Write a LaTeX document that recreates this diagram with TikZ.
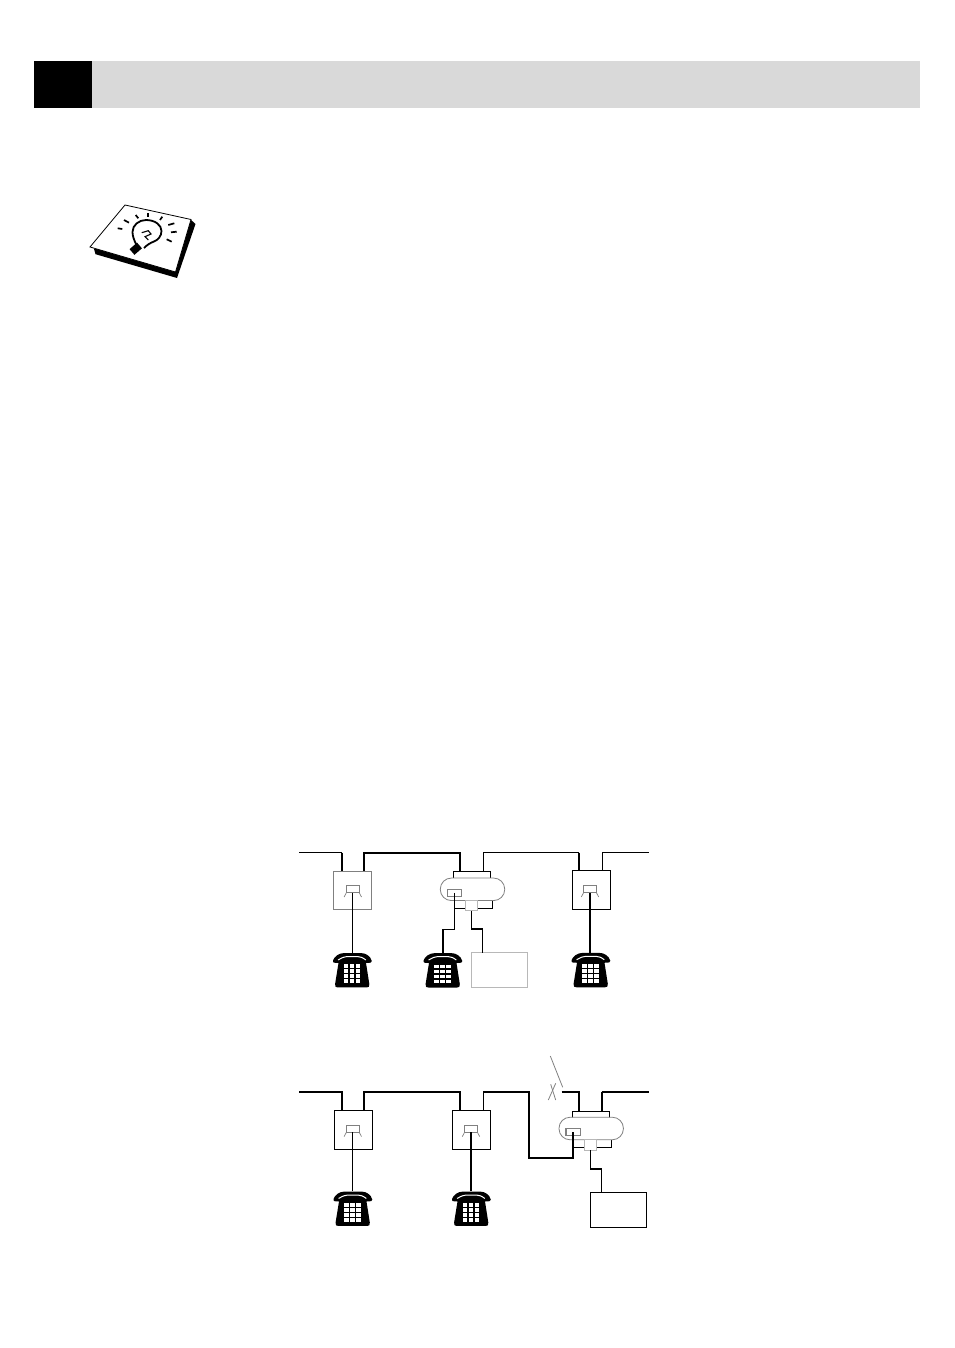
\documentclass[tikz,border=0pt]{standalone}
\usepackage{xcolor}
\usetikzlibrary{positioning}
\definecolor{bargray}{HTML}{D9D9D9}
\definecolor{edgegray}{HTML}{808080}
\definecolor{paleedge}{HTML}{B8B8B8}

\begin{document}
\begin{tikzpicture}[
  x=1pt,y=-1pt,
  every node/.style={inner sep=0pt,outer sep=0pt},
  wallbox/.style={draw,fill=white,line width=0.9pt,minimum width=38pt,minimum height=38.5pt},
  jack/.style={draw=edgegray,fill=white,line width=1.1pt,minimum width=13pt,minimum height=7pt},
  jackleg/.style={edgegray,line width=0.7pt},
  faxbody/.style={draw=edgegray,fill=white,line width=0.8pt,rounded corners=11pt,minimum width=64.4pt,minimum height=22.5pt},
  faxpart/.style={draw,fill=white,line width=0.9pt},
  faxjack/.style={draw=edgegray,fill=white,line width=1.2pt,minimum width=14.5pt,minimum height=7pt},
  faxplug/.style={draw=paleedge,fill=white,line width=0.9pt,minimum width=12pt,minimum height=10.5pt},
  tad/.style={draw,fill=white,line width=0.9pt,minimum width=56pt,minimum height=35pt},
  wire/.style={line width=1.8pt,line join=miter},
  midwire/.style={line width=1.5pt,line join=miter},
  thinwire/.style={line width=1.1pt,line join=miter},
  phone/.style={minimum width=39pt,minimum height=35pt,path picture={
    \fill[black] (-19.8,-9.5) .. controls (-18,-14.5) and (-13,-17.3) .. (-9,-17.3)
      -- (9,-17.3) .. controls (13,-17.3) and (18,-14.5) .. (19.3,-9.5)
      .. controls (19.5,-8) and (18.5,-7.5) .. (13.5,-7.5)
      -- (16.8,13.5) .. controls (17.3,16.5) and (16,17) .. (14,17)
      -- (-14.6,17) .. controls (-16.6,17) and (-17.9,16.5) .. (-17.4,13.5)
      -- (-14,-7.5) .. controls (-19,-7.5) and (-20,-8) .. (-19.8,-9.5) -- cycle;
    \draw[white,line width=1pt] (-14.4,-10.5) .. controls (-10,-13) and (-8,-13.8) .. (-6,-13.8)
      -- (5.6,-13.8) .. controls (8,-13.8) and (10,-13) .. (13.3,-10.5);
    \foreach \c in {-6.6,-0.6,5.4}
      \foreach \r in {-4.1,0.9,5.9,10.9}
        \fill[white] (\c-2.3,\r-1.9) rectangle (\c+2.3,\r+1.9);
  }},
]
\useasboundingbox (0,0) rectangle (954,1348);
\fill[bargray] (34,61) rectangle (920,108);
\fill[black] (34,61) rectangle (92,108);

% tip icon
\fill[black] (94,249) -- (95.5,254.2) -- (177,278) -- (195.5,224) -- (190,219) -- cycle;
\draw[fill=white,line width=0.8pt] (125,205) -- (191,219.5) -- (175.5,272) -- (90,247) -- cycle;
\draw[line width=1.8pt,fill=white] (136.5,245) .. controls (134,240) and (132.5,236) .. (132.5,232)
  .. controls (132.5,225) and (139,220) .. (146,220)
  .. controls (155,220) and (161.5,225) .. (161.5,231)
  .. controls (161.5,236) and (158,240) .. (154,241.5)
  .. controls (150,243) and (147,245) .. (144,248);
\draw[line width=7.5pt] (139.5,245.5) -- (132,252);
\draw[line width=1.1pt] (141.7,232.7) -- (148.3,230.7) -- (151,234) -- (145,236.7) -- (148.3,240);
\foreach \a/\b/\c/\d in {117.7/228.3/122.3/229,124/220/129/222.7,135.7/215/138.3/218.3,148.3/213.3/148.3/217.3,162.3/216.7/160/220,174.3/223.3/168.3/225,176.7/231.7/171/232.3,171.7/241.7/166.7/239.3}
  \draw[line width=1.7pt] (\a,\b) -- (\c,\d);

% upper line
\coordinate (lineAleft) at (299,852.7);
\coordinate (lineAright) at (649,852.7);
\node[wallbox,draw=edgegray] (sockA) at (352.5,890.2) {};
\node[wallbox] (sockC) at (591,890) {};
\node[jack] (jackA) at (352.8,889.3) {};
\node[jack] (jackC) at (590,889.3) {};
\node[phone,below=43.5pt of sockA] (phoneA) {};
\node[phone,below=43.5pt of sockC] (phoneC) {};
\node[phone] (phoneB) at (443,970.5) {};
\node[tad,draw=paleedge] (tadA) at (499,970.4) {};

% lower line
\coordinate (lineBleft) at (299,1092);
\coordinate (lineBright) at (649,1092);
\coordinate (lineBcut) at (561.7,1092);
\node[wallbox] (sockD) at (353,1129.7) {};
\node[wallbox] (sockE) at (471.5,1129.7) {};
\node[jack] (jackD) at (352.8,1128.9) {};
\node[jack] (jackE) at (471,1128.9) {};
\node[phone,below=42.5pt of sockD] (phoneD) {};
\node[phone,below=42.5pt of sockE] (phoneE) {};
\node[tad] (tadB) at (618.3,1209.7) {};

\foreach \j in {jackA,jackC,jackD,jackE} {
  \draw[jackleg] (\j.south west) -- ++(-2.2,4.2);
  \draw[jackleg] (\j.south east) -- ++(2.2,4.2);
}

% the two fax units
\foreach \n/\x/\y in {faxA/472.5/889.3,faxB/591.2/1128.5} {
  \node[faxpart,minimum width=36.6pt,minimum height=10pt] (\n top) at (\x-0.5,\y-12.5) {};
  \node[faxpart,minimum width=37.8pt,minimum height=14pt] (\n base) at (\x+1,\y+12) {};
  \node[faxbody] (\n) at (\x,\y) {};
  \node[faxjack] (\n jack) at (\x-18,\y+3.5) {};
  \node[faxplug,anchor=north] (\n plug) at (\x-0.8,\y+11) {};
}

\draw[thinwire] (lineAleft) -- ([xshift=-10.8pt]sockA.north |- lineAleft);
\draw[wire] ([xshift=-10.8pt]sockA.north |- lineAleft) -- ([xshift=-10.8pt]sockA.north);
\draw[wire] ([xshift=11.2pt]sockA.north) |- ([xshift=-12pt]faxAtop.north |- lineAleft) -- ([xshift=-12pt]faxAtop.north);
\draw[thinwire] ([xshift=11.3pt]faxAtop.north) |- ([xshift=-12pt]sockC.north |- lineAleft);
\draw[wire] ([xshift=-12pt]sockC.north |- lineAleft) -- ([xshift=-12pt]sockC.north);
\draw[thinwire] ([xshift=11.3pt]sockC.north) |- (lineAright);
\draw[thinwire] (jackA.south) -- (jackA.south |- phoneA.north);
\draw[wire] (jackC.south) -- (jackC.south |- phoneC.north);
\draw[midwire] (faxAjack.center) |- ([yshift=23.7pt]phoneB.north) -- (phoneB.north);
\draw[midwire] (faxAplug.south) |- ([yshift=23.7pt,xshift=-16.7pt]tadA.north) -- ([xshift=-16.7pt]tadA.north);

\draw[wire] (lineBleft) -| ([xshift=-11.3pt]sockD.north);
\draw[wire] ([xshift=10.7pt]sockD.north) |- ([xshift=-11.2pt]sockE.north |- lineBleft) -- ([xshift=-11.2pt]sockE.north);
\coordinate (bendB) at (529,1158.3);
\draw[thinwire] ([xshift=11.8pt]sockE.north) -- ([xshift=11.8pt]sockE.north |- lineBleft);
\draw[wire] ([xshift=11.8pt]sockE.north |- lineBleft) -| (bendB) -| (faxBjack.center);
\draw[wire] (lineBcut) -| ([xshift=-12pt]faxBtop.north);
\draw[wire] ([xshift=11pt]faxBtop.north) -- ([xshift=11pt]faxBtop.north |- lineBright);
\draw[thinwire] ([xshift=11pt]faxBtop.north |- lineBright) -- (lineBright);
\draw[thinwire] (jackD.south) -- (jackD.south |- phoneD.north);
\draw[wire] (jackE.south) -- (jackE.south |- phoneE.north);
\draw[midwire] (faxBplug.south) |- ([yshift=23.3pt,xshift=-17pt]tadB.north) -- ([xshift=-17pt]tadB.north);

% open switch
\draw[edgegray,line width=0.8pt] (550.3,1056) -- (562.7,1087.3);
\draw[edgegray,line width=0.8pt] (555.7,1083.3) -- (548.3,1100);
\draw[edgegray,line width=0.8pt] (550.7,1084.3) -- (555.7,1100);
\end{tikzpicture}
\end{document}
